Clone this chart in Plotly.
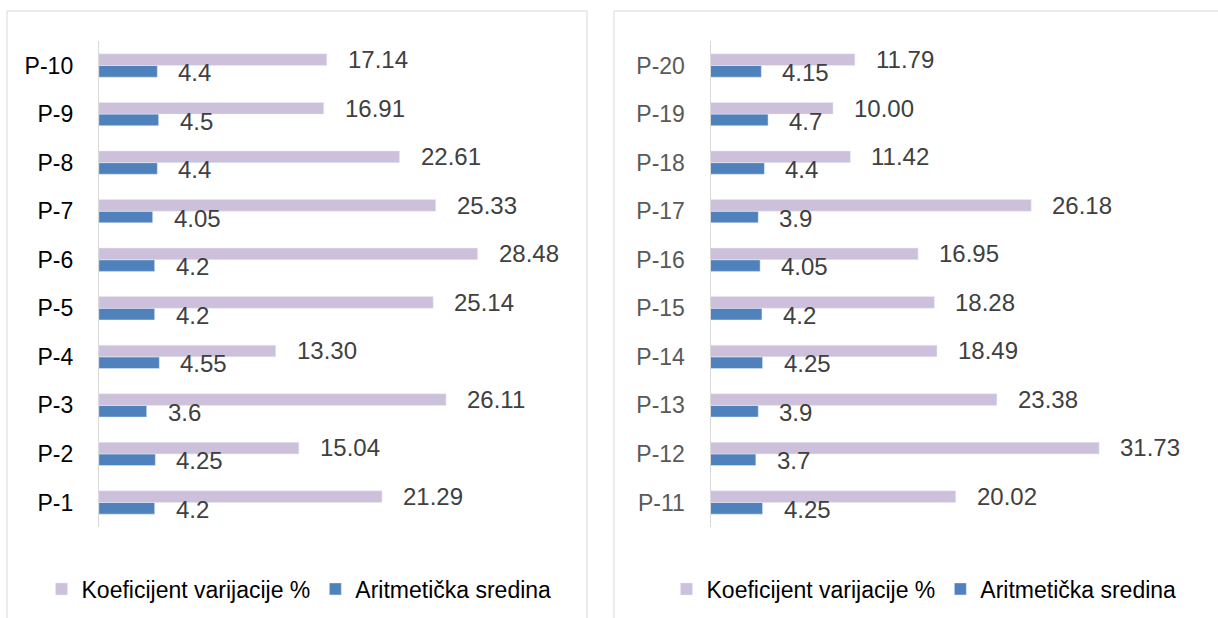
import plotly.graph_objects as go

W, H = 1218, 618

# left panel
cats_left = ["P-1", "P-2", "P-3", "P-4", "P-5", "P-6", "P-7", "P-8", "P-9", "P-10"]
kv_left = [21.29, 15.04, 26.11, 13.30, 25.14, 28.48, 25.33, 22.61, 16.91, 17.14]
as_left = [4.2, 4.25, 3.6, 4.55, 4.2, 4.2, 4.05, 4.4, 4.5, 4.4]

# right panel
cats_right = ["P-11", "P-12", "P-13", "P-14", "P-15", "P-16", "P-17", "P-18", "P-19", "P-20"]
kv_right = [20.02, 31.73, 23.38, 18.49, 18.28, 16.95, 26.18, 11.42, 10.00, 11.79]
as_right = [4.25, 3.7, 3.9, 4.25, 4.2, 4.05, 3.9, 4.4, 4.7, 4.15]

name_kv = "Koeficijent varijacije %"
name_as = "Aritmetička sredina"
col_kv = "#CCC0DA"
col_as = "#4F81BD"
FONT = "Liberation Sans, Arial, sans-serif"


def px(x):
    return x / W


def py(y):
    return 1 - y / H


fig = go.Figure()

# blue first so it sits below the purple bar in each group
for xa, ya, leg, cats, kv, av in [
    ("x", "y", "legend", cats_left, kv_left, as_left),
    ("x2", "y2", "legend2", cats_right, kv_right, as_right),
]:
    fig.add_trace(go.Bar(y=cats, x=av, orientation="h", name=name_as,
                         marker_color=col_as, xaxis=xa, yaxis=ya,
                         legend=leg, legendrank=2, hoverinfo="x+y"))
    fig.add_trace(go.Bar(y=cats, x=kv, orientation="h", name=name_kv,
                         marker_color=col_kv, xaxis=xa, yaxis=ya,
                         legend=leg, legendrank=1, hoverinfo="x+y"))

# value labels
annotations = []
for xa, ya, cats, kv, av in [
    ("x", "y", cats_left, kv_left, as_left),
    ("x2", "y2", cats_right, kv_right, as_right),
]:
    for c, k, a in zip(cats, kv, av):
        annotations.append(dict(x=k, y=c, xref=xa, yref=ya, text=f"{k:.2f}",
                                xanchor="left", yanchor="middle", xshift=19, yshift=6,
                                showarrow=False, font=dict(size=24, color="#404040", family=FONT)))
        annotations.append(dict(x=a, y=c, xref=xa, yref=ya, text=f"{a:g}",
                                xanchor="left", yanchor="middle", xshift=19, yshift=-7,
                                showarrow=False, font=dict(size=24, color="#404040", family=FONT)))

ydom = [py(526.75), py(41.25)]
yaxis_common = dict(type="category", domain=ydom, showline=True, linecolor="#D9D9D9",
                    linewidth=1, showgrid=False, zeroline=False, ticks="",
                    ticklabelstandoff=20, automargin=False, fixedrange=True)

fig.update_layout(
    width=W, height=H,
    margin=dict(l=0, r=0, t=0, b=0),
    paper_bgcolor="white", plot_bgcolor="white",
    font=dict(family=FONT, size=22, color="#000000"),
    barmode="group", bargap=0.52, bargroupgap=0,
    showlegend=True,
    xaxis=dict(domain=[px(98.8), px(497.8)], range=[0, 30], visible=False,
               anchor="y", fixedrange=True),
    yaxis=dict(anchor="x", tickfont=dict(size=23, color="#000000"), **yaxis_common),
    xaxis2=dict(domain=[px(710.5), px(1139.2)], range=[0, 35], visible=False,
                anchor="y2", fixedrange=True),
    yaxis2=dict(anchor="x2", tickfont=dict(size=23, color="#595959"), **yaxis_common),
    legend=dict(orientation="h", x=px(299), y=py(589), xanchor="center", yanchor="middle",
                font=dict(size=23, color="#000000"), bgcolor="rgba(0,0,0,0)"),
    legend2=dict(orientation="h", x=px(924), y=py(589), xanchor="center", yanchor="middle",
                 font=dict(size=23, color="#000000"), bgcolor="rgba(0,0,0,0)"),
    annotations=annotations,
    shapes=[
        dict(type="rect", xref="paper", yref="paper", x0=px(7), x1=px(587), y0=-0.05, y1=py(11),
             line=dict(color="#D9D9D9", width=1), fillcolor="rgba(0,0,0,0)", layer="below"),
        dict(type="rect", xref="paper", yref="paper", x0=px(614), x1=1.05, y0=-0.05, y1=py(11),
             line=dict(color="#D9D9D9", width=1), fillcolor="rgba(0,0,0,0)", layer="below"),
    ],
)

# drop the browser's default body margin so the figure sits at the page origin
fig.write_html("out.html", config={"displayModeBar": False},
               post_script="document.body.style.margin='0';")
